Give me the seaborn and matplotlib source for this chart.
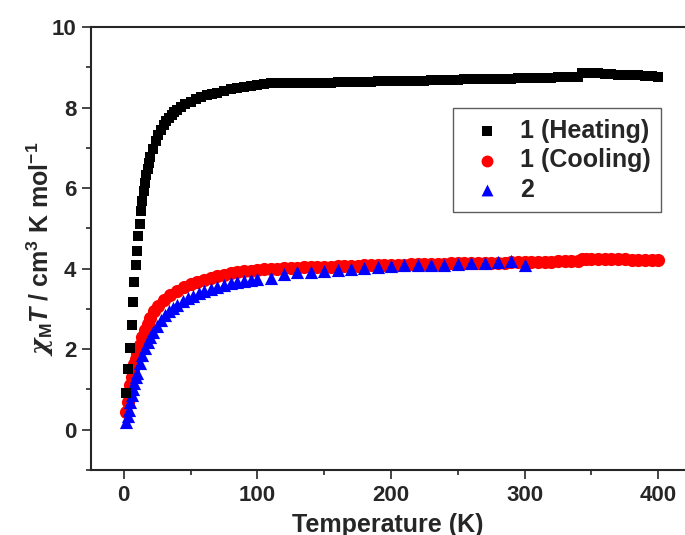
import seaborn as sns
import matplotlib
matplotlib.use("Agg")
import matplotlib.pyplot as plt
from matplotlib.ticker import MultipleLocator

# 1 (Heating)
heat_T = [2, 3.5, 5, 6, 7, 8, 9, 10, 11, 12, 13, 14, 15, 16, 17, 18, 19, 20,
          22, 24, 26, 28, 30, 32, 34, 36, 38, 40, 43, 46, 50, 54, 58, 62, 66,
          70, 75, 80, 85, 90, 95, 100, 105, 110, 115, 120, 125, 130, 135, 140,
          145, 150, 155, 160, 165, 170, 175, 180, 185, 190, 195, 200, 205, 210,
          215, 220, 225, 230, 235, 240, 245, 250, 255, 260, 265, 270, 275, 280,
          285, 290, 295, 300, 305, 310, 315, 320, 325, 330, 335, 340, 343, 346,
          350, 355, 360, 365, 370, 375, 380, 385, 390, 395, 400]
heat_chiT = [0.92, 1.50, 2.04, 2.60, 3.18, 3.66, 4.10, 4.45, 4.80, 5.12, 5.42,
             5.68, 5.92, 6.13, 6.32, 6.48, 6.63, 6.76, 6.98, 7.16, 7.31, 7.44,
             7.56, 7.66, 7.75, 7.82, 7.89, 7.95, 8.02, 8.08, 8.15, 8.21, 8.26,
             8.30, 8.34, 8.37, 8.41, 8.45, 8.48, 8.51, 8.53, 8.56, 8.58, 8.60,
             8.61, 8.62, 8.62, 8.62, 8.62, 8.62, 8.62, 8.62, 8.62, 8.63, 8.63,
             8.63, 8.64, 8.64, 8.64, 8.65, 8.65, 8.65, 8.66, 8.66, 8.67, 8.67,
             8.67, 8.68, 8.68, 8.68, 8.69, 8.69, 8.70, 8.70, 8.70, 8.71, 8.71,
             8.71, 8.72, 8.72, 8.73, 8.73, 8.73, 8.74, 8.74, 8.74, 8.75, 8.75,
             8.75, 8.76, 8.85, 8.87, 8.86, 8.85, 8.84, 8.83, 8.82, 8.81, 8.80,
             8.80, 8.79, 8.78, 8.77]

# 1 (Cooling)
cool_T = [2, 3, 4, 5, 6, 7, 8, 9, 10, 12, 14, 16, 18, 20, 23, 26, 30, 35, 40,
          45, 50, 55, 60, 65, 70, 75, 80, 85, 90, 95, 100, 105, 110, 115, 120,
          125, 130, 135, 140, 145, 150, 155, 160, 165, 170, 175, 180, 185, 190,
          195, 200, 205, 210, 215, 220, 225, 230, 235, 240, 245, 250, 255, 260,
          265, 270, 275, 280, 285, 290, 295, 300, 305, 310, 315, 320, 325, 330,
          335, 340, 343, 346, 350, 355, 360, 365, 370, 375, 380, 385, 390, 395,
          400]
cool_chiT = [0.45, 0.70, 0.92, 1.12, 1.30, 1.47, 1.62, 1.76, 1.88, 2.10, 2.30,
             2.48, 2.63, 2.77, 2.95, 3.08, 3.22, 3.35, 3.45, 3.55, 3.62, 3.67,
             3.72, 3.77, 3.81, 3.85, 3.88, 3.91, 3.93, 3.95, 3.96, 3.98, 3.99,
             4.00, 4.01, 4.02, 4.02, 4.03, 4.04, 4.04, 4.05, 4.05, 4.06, 4.06,
             4.07, 4.07, 4.08, 4.08, 4.09, 4.09, 4.09, 4.10, 4.10, 4.11, 4.11,
             4.11, 4.12, 4.12, 4.12, 4.13, 4.13, 4.13, 4.14, 4.14, 4.14, 4.15,
             4.15, 4.15, 4.16, 4.16, 4.16, 4.17, 4.17, 4.17, 4.17, 4.18, 4.18,
             4.18, 4.18, 4.23, 4.24, 4.24, 4.23, 4.23, 4.23, 4.23, 4.23, 4.22,
             4.22, 4.22, 4.22, 4.22]

# 2
s2_T = [2, 3, 4, 5, 6, 7, 8, 9, 10, 12, 14, 16, 18, 20, 22, 25, 28, 31, 34,
        37, 40, 44, 48, 52, 56, 60, 65, 70, 75, 80, 85, 90, 95, 100, 110, 120,
        130, 140, 150, 160, 170, 180, 190, 200, 210, 220, 230, 240, 250, 260,
        270, 280, 290, 300]
s2_chiT = [0.20, 0.35, 0.50, 0.68, 0.85, 1.00, 1.15, 1.30, 1.42, 1.65, 1.85,
           2.02, 2.17, 2.30, 2.42, 2.58, 2.72, 2.84, 2.94, 3.03, 3.10, 3.19,
           3.27, 3.33, 3.39, 3.44, 3.50, 3.55, 3.60, 3.64, 3.67, 3.70, 3.72,
           3.74, 3.78, 3.86, 3.91, 3.91, 3.93, 3.96, 3.99, 4.01, 4.04, 4.07,
           4.10, 4.10, 4.10, 4.10, 4.12, 4.14, 4.15, 4.17, 4.19, 4.10]

sns.set_style("ticks")
plt.rcParams['font.family'] = ['Liberation Sans', 'DejaVu Sans']
plt.rcParams['font.weight'] = 'bold'
plt.rcParams['mathtext.fontset'] = 'custom'
plt.rcParams['mathtext.rm'] = 'Liberation Sans:bold'
plt.rcParams['mathtext.it'] = 'Liberation Sans:italic:bold'
plt.rcParams['mathtext.bf'] = 'Liberation Sans:bold'
plt.rcParams['mathtext.sf'] = 'DejaVu Serif:italic'

fig = plt.figure(figsize=(6.85, 5.35), dpi=100)
ax = fig.add_axes([0.1328, 0.1215, 0.8672, 0.828])

sns.scatterplot(x=heat_T, y=heat_chiT, ax=ax, marker='s', color='black',
                s=58, linewidth=0, label='1 (Heating)', zorder=4)
sns.scatterplot(x=cool_T, y=cool_chiT, ax=ax, marker='o', color='red',
                s=90, linewidth=0, label='1 (Cooling)', zorder=2)
sns.scatterplot(x=s2_T, y=s2_chiT, ax=ax, marker='^', color='blue',
                s=90, linewidth=0, label='2', zorder=3)

ax.set_xlim(-24.5, 420)
ax.set_ylim(-1, 10)
ax.xaxis.set_major_locator(MultipleLocator(100))
ax.xaxis.set_minor_locator(MultipleLocator(50))
ax.yaxis.set_major_locator(MultipleLocator(2))
ax.yaxis.set_minor_locator(MultipleLocator(1))

for side in ['left', 'bottom', 'top']:
    ax.spines[side].set_linewidth(1.5)
ax.spines['right'].set_visible(False)
ax.tick_params(which='major', length=6.5, width=1.2, labelsize=16, pad=4)
ax.tick_params(which='minor', length=3.5, width=1.2)
for lab in ax.get_xticklabels() + ax.get_yticklabels():
    lab.set_fontweight('bold')

ax.set_xlabel('Temperature (K)', fontsize=18, fontweight='bold', labelpad=5)
ax.set_ylabel(r'$\mathsf{\chi}_{\mathrm{M}}T$ / cm$^{3}$ K mol$^{-1}$',
              fontsize=18, fontweight='bold', labelpad=-3)

leg = ax.legend(loc='upper right', bbox_to_anchor=(0.965, 0.798),
                bbox_transform=fig.transFigure, fontsize=18,
                frameon=True, fancybox=False, edgecolor='#333333',
                borderaxespad=0, handletextpad=0.35, labelspacing=0.22,
                borderpad=0.42, handlelength=1.9, markerscale=0.9)
leg.get_frame().set_linewidth(1.0)
for t in leg.get_texts():
    t.set_fontweight('bold')

fig.savefig('out.png', dpi=100)
